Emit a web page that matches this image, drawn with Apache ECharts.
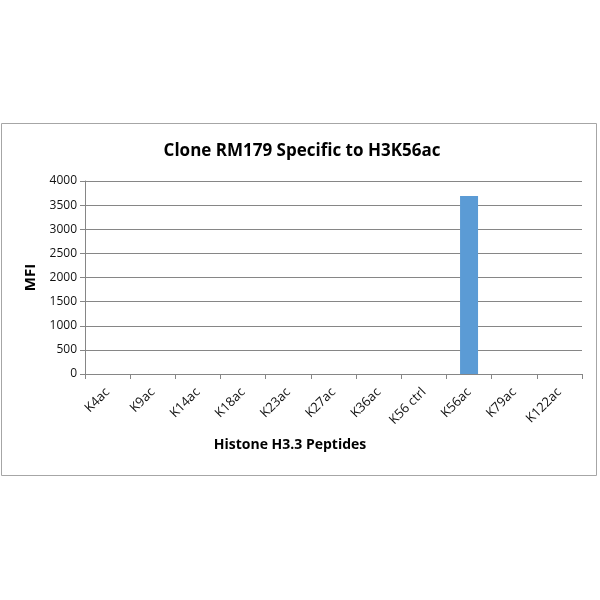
<!DOCTYPE html>
<html lang="en">
  <head>
    <meta charset="UTF-8" />
    <title>Clone RM179</title>
    <style>
      body, html {
        margin: 0;
        width: 100%;
        height: 100%;
        background: #fff;
      }
    </style>
  </head>
  <body>
    <div id="main" style="width:600px;height:600px;"></div>

    <script src="https://cdn.jsdelivr.net/npm/echarts@6/dist/echarts.min.js"></script>
    <script>
      const peptides = ['K4ac', 'K9ac', 'K14ac', 'K18ac', 'K23ac', 'K27ac', 'K36ac', 'K56 ctrl', 'K56ac', 'K79ac', 'K122ac'];
      const mfi = [0, 0, 0, 0, 0, 0, 0, 0, 3690, 0, 0];
      const yTicks = [0, 4000, 500];

      const font = '"Open Sans", "Liberation Sans", sans-serif';
      const myChart = echarts.init(document.getElementById('main'));

      const option = {
        backgroundColor: '#fff',
        animation: false,
        title: {
          text: 'Clone RM179 Specific to H3K56ac',
          left: 297,
          top: 138,
          textAlign: 'center',
          textStyle: { fontFamily: font, fontSize: 17, fontWeight: 'bold', color: '#000' },
        },
        graphic: [
          {
            type: 'rect',
            shape: { x: 1.5, y: 123.5, width: 595, height: 352 },
            style: { fill: 'none', stroke: '#a6a6a6', lineWidth: 1 },
            silent: true,
          },
          {
            type: 'text',
            x: 290,
            y: 438,
            style: {
              text: 'Histone H3.3 Peptides',
              textAlign: 'center',
              font: 'bold 14px ' + font,
              fill: '#000',
            },
          },
        ],
        grid: { left: 85, right: 18, top: 181, bottom: 226, containLabel: false },
        xAxis: {
          type: 'category',
          data: peptides,
          axisLine: { lineStyle: { color: '#868686' } },
          axisTick: { show: true, alignWithLabel: false, length: 5, lineStyle: { color: '#868686' } },
          axisLabel: { rotate: 45, fontFamily: font, fontSize: 13, color: '#111', margin: 16, interval: 0 },
        },
        yAxis: {
          type: 'value',
          min: yTicks[0],
          max: yTicks[1],
          interval: yTicks[2],
          name: 'MFI',
          nameLocation: 'middle',
          nameGap: 45,
          nameTextStyle: { fontFamily: font, fontSize: 15, fontWeight: 'bold', color: '#000' },
          axisLine: { show: true, lineStyle: { color: '#868686' } },
          axisTick: { show: true, length: 5, lineStyle: { color: '#868686' } },
          axisLabel: { fontFamily: font, fontSize: 12, color: '#111', margin: 8, formatter: v => String(v) },
          splitLine: { lineStyle: { color: '#868686' } },
        },
        series: [
          {
            type: 'bar',
            data: mfi,
            barWidth: 18,
            itemStyle: { color: '#5b9bd5' },
          },
        ],
      };

      myChart.setOption(option);
    </script>
  </body>
</html>
